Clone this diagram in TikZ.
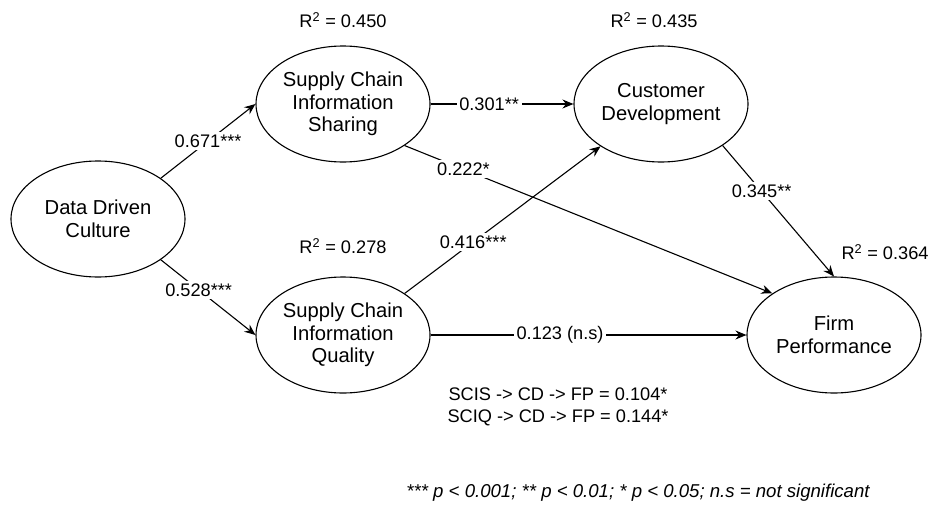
\documentclass[tikz,border=0pt]{standalone}
\usepackage{fontspec}
\setmainfont{Liberation Sans}
\usetikzlibrary{arrows.meta,shapes.geometric}
\begin{document}
\begin{tikzpicture}[x=1pt,y=-1pt,
  construct/.style={draw,ellipse,line width=1.1pt,minimum width=174pt,minimum height=116pt,inner sep=0pt,align=center,font=\fontsize{20.2}{22.5}\selectfont},
  path/.style={line width=1.1pt,-{Stealth[length=11pt,width=9pt]}},
  lab/.style={fill=white,inner sep=2.5pt,font=\fontsize{18.2}{20}\selectfont},
  note/.style={font=\fontsize{18.2}{22}\selectfont,align=center}]
\useasboundingbox (0,0) rectangle (928,506);
\node[construct] (ddc) at (98,219) {Data Driven\\Culture};
\node[construct] (scis) at (343,104) {Supply Chain\\Information\\Sharing};
\node[construct] (sciq) at (343,335) {Supply Chain\\Information\\Quality};
\node[construct] (cd) at (661,104) {Customer\\Development};
\node[construct] (fp) at (834,335) {Firm\\Performance};
\node[note] (r1) at (343,20) {R\textsuperscript{2} = 0.450};
\node[note] (r2) at (654,20) {R\textsuperscript{2} = 0.435};
\node[note] (r3) at (343,246) {R\textsuperscript{2} = 0.278};
\node[note] (r4) at (885,252) {R\textsuperscript{2} = 0.364};
\draw[path] (ddc.33) -- node[lab,pos=0.5] {0.671***} (scis.west);
\draw[path] (ddc.-33) -- node[lab,pos=0.4] {0.528***} (sciq.west);
\draw[path] (scis.east) -- node[lab,pos=0.41] {0.301**} (cd.west);
\draw[path] (scis.-34) -- node[lab,pos=0.16] {0.222*} (fp.146);
\draw[path] (sciq.34) -- node[lab,pos=0.35] {0.416***} (cd.215);
\draw[path] (sciq.east) -- node[lab,pos=0.41] {0.123 (n.s)} (fp.west);
\draw[path] (cd.-34) -- node[lab,pos=0.35] {0.345**} (fp.north);
\node[note] (ind) at (558,407) {SCIS -> CD -> FP = 0.104*\\SCIQ -> CD -> FP = 0.144*};
\node[note,font=\fontsize{18.6}{22}\selectfont\itshape] (fn) at (638,493) {*** p < 0.001; ** p < 0.01; * p < 0.05; n.s = not significant};
\end{tikzpicture}
\end{document}
